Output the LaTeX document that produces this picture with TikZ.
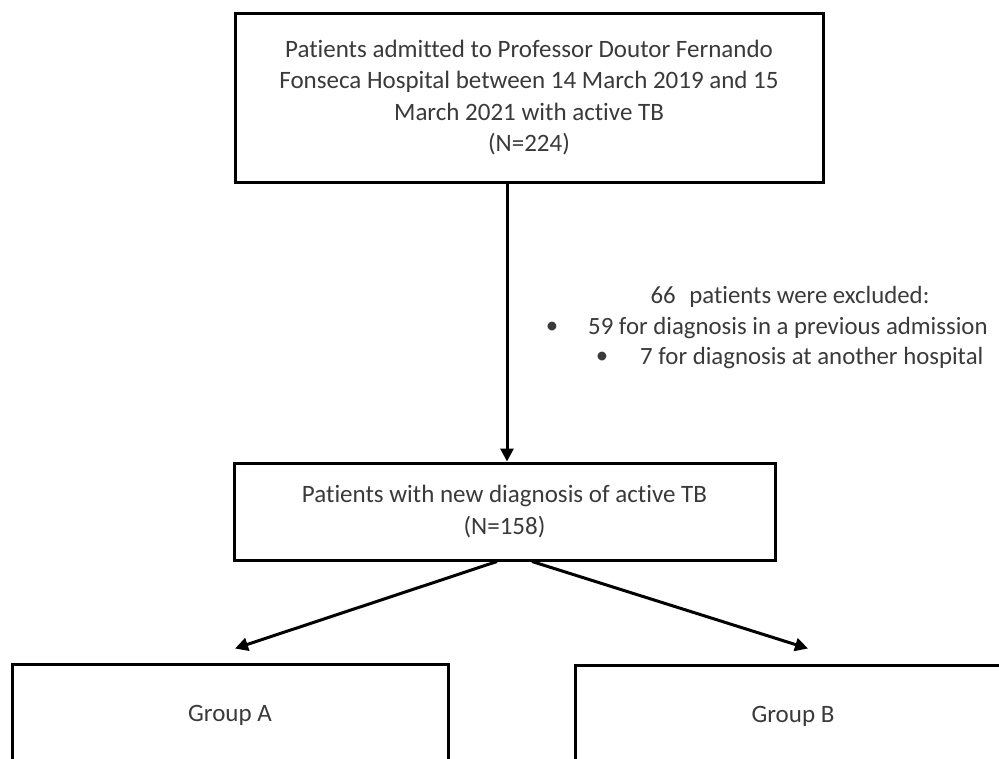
\documentclass[tikz,border=0pt]{standalone}
\usepackage{fontspec}
\setmainfont{Carlito}[Ligatures={NoCommon}]
\usetikzlibrary{arrows.meta}
\definecolor{txt}{HTML}{3A3A3A}
\begin{document}
\begin{tikzpicture}[x=1pt,y=-1pt,
  box/.style={draw=black, line width=3pt, rectangle, inner sep=0pt, align=center, text=txt, font=\fontsize{25}{31.5}\selectfont},
  conn/.style={draw=black, line width=3pt, -{Triangle[length=13pt,width=13pt]}},
  lbl/.style={text=txt, font=\fontsize{24.8}{30}\selectfont, inner sep=0pt}]
\useasboundingbox (0,0) rectangle (999,758);
\fill[white] (0,0) rectangle (999,758);
\node[box, minimum width=588pt, minimum height=169pt] (top) at (529,97.5)
  {Patients admitted to Professor Doutor Fernando\\Fonseca Hospital between 14 March 2019 and 15\\March 2021 with active TB\\(N=224)};
\node[box, minimum width=541pt, minimum height=97pt] (mid) at (504.5,511.5)
  {Patients with new diagnosis of active TB\\(N=158)};
\node[box, minimum width=436pt, minimum height=102pt] (gA) at (230,715) {Group A};
\node[box, minimum width=436pt, minimum height=102pt] (gB) at (793,716) {Group B};
\node[lbl] (ex0) at (790,297) {66\hspace{0.55em}patients were excluded:};
\node[lbl, anchor=west] (ex1) at (588,328) {59 for diagnosis in a previous admission};
\node[lbl, anchor=west] (ex2) at (640,358) {7 for diagnosis at another hospital};
\node[lbl] (b1) at (552,328) {•};
\node[lbl] (b2) at (602,358) {•};
\draw[conn] ([xshift=-22pt]top.south) -- ([xshift=2.5pt]mid.north);
\draw[conn] ([xshift=-7.5pt]mid.south) -- ([xshift=5pt,yshift=14pt]gA.north);
\draw[conn] ([xshift=27.5pt]mid.south) -- ([xshift=15pt,yshift=15pt]gB.north);
\end{tikzpicture}
\end{document}
